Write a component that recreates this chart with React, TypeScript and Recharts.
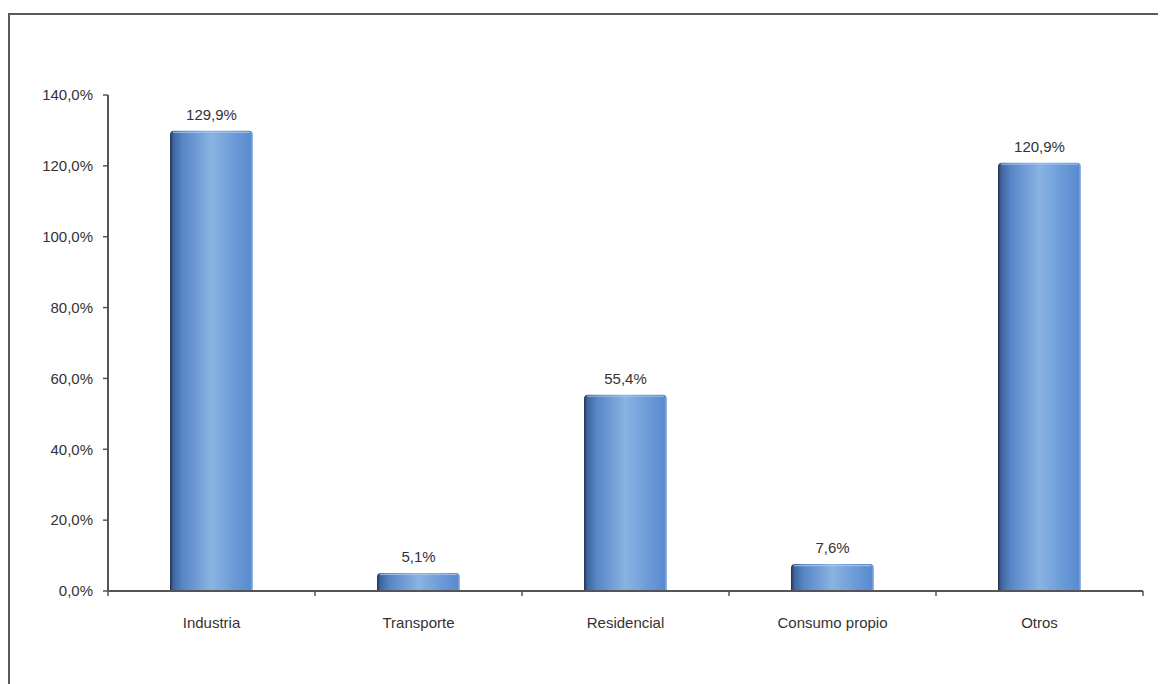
import React from "react";
import { BarChart, Bar, XAxis, YAxis, LabelList } from "recharts";

const categories = ["Industria", "Transporte", "Residencial", "Consumo propio", "Otros"];
const values = [129.9, 5.1, 55.4, 7.6, 120.9];
const yTicks = [0, 20, 40, 60, 80, 100, 120, 140];
const boundaryTicks = [0, 1, 2, 3, 4, 5];

const data = categories.map((name, i) => ({ name, value: values[i], pos: i + 0.5 }));

const fmt = (v: number) => v.toFixed(1).replace(".", ",") + "%";

const CylinderBar = (props: any) => {
  const { x, y, width, height } = props;
  if (!height || height <= 0) return null;
  const r = Math.min(4, height / 2);
  const path = `M${x},${y + height} L${x},${y + r} Q${x},${y} ${x + r},${y} L${x + width - r},${y} Q${x + width},${y} ${x + width},${y + r} L${x + width},${y + height} Z`;
  return (
    <g>
      <path d={path} fill="url(#cylGrad)" />
      <path d={`M${x + 3},${y + 1.5} L${x + width - 3},${y + 1.5}`} stroke="#a9c8ec" strokeWidth={1.2} opacity={0.8} />
    </g>
  );
};

export default function App() {
  return (
    <div style={{ position: "relative", width: 1158, height: 676, overflow: "hidden", fontFamily: "'Liberation Sans', Arial, sans-serif" }}>
      <div
        style={{
          position: "absolute",
          left: 0,
          top: 5,
          width: 1300,
          height: 800,
          borderLeft: "2px solid #5a5a5a",
          borderTop: "2px solid #5a5a5a",
          boxSizing: "border-box",
        }}
      />
      <div style={{ position: "absolute", left: 0, top: 0 }}>
        <BarChart
          width={1158}
          height={676}
          data={data}
          margin={{ top: 87, right: 23, bottom: 63, left: 0 }}
        >
          <defs>
            <linearGradient id="cylGrad" x1="0" y1="0" x2="1" y2="0">
              <stop offset="0%" stopColor="#22334f" />
              <stop offset="4%" stopColor="#3f659e" />
              <stop offset="15%" stopColor="#5686c6" />
              <stop offset="50%" stopColor="#8ab3e3" />
              <stop offset="75%" stopColor="#6d9dd8" />
              <stop offset="97%" stopColor="#5a8bcf" />
              <stop offset="100%" stopColor="#9dbde3" />
            </linearGradient>
          </defs>
          <XAxis
            xAxisId="axA"
            type="number"
            domain={[0, 5]}
            ticks={boundaryTicks}
            dataKey="pos"
            axisLine={{ stroke: "#555", strokeWidth: 2 }}
            tick={{ fontSize: 1, fill: "transparent" }}
            tickFormatter={() => ""}
            tickLine={{ stroke: "#555", strokeWidth: 1.5 }}
            tickSize={5}
            height={1}
            interval={0}
          />
          <XAxis
            xAxisId="axB"
            dataKey="name"
            tickLine={false}
            axisLine={false}
            height={29}
            tickMargin={19}
            tick={{ fill: "#333", fontSize: 15 }}
            interval={0}
          />
          <YAxis
            domain={[0, 140]}
            ticks={yTicks}
            tickFormatter={fmt}
            width={100}
            axisLine={{ stroke: "#555", strokeWidth: 2 }}
            tickLine={{ stroke: "#555", strokeWidth: 1.5 }}
            tickSize={5}
            tickMargin={10}
            tick={{ fill: "#333", fontSize: 15 }}
            interval={0}
          />
          <Bar xAxisId="axB" dataKey="value" barSize={83} shape={CylinderBar} isAnimationActive={false}>
            <LabelList dataKey="value" position="top" offset={11} formatter={(v: any) => fmt(Number(v))} fill="#333" fontSize={15} />
          </Bar>
        </BarChart>
      </div>
    </div>
  );
}
